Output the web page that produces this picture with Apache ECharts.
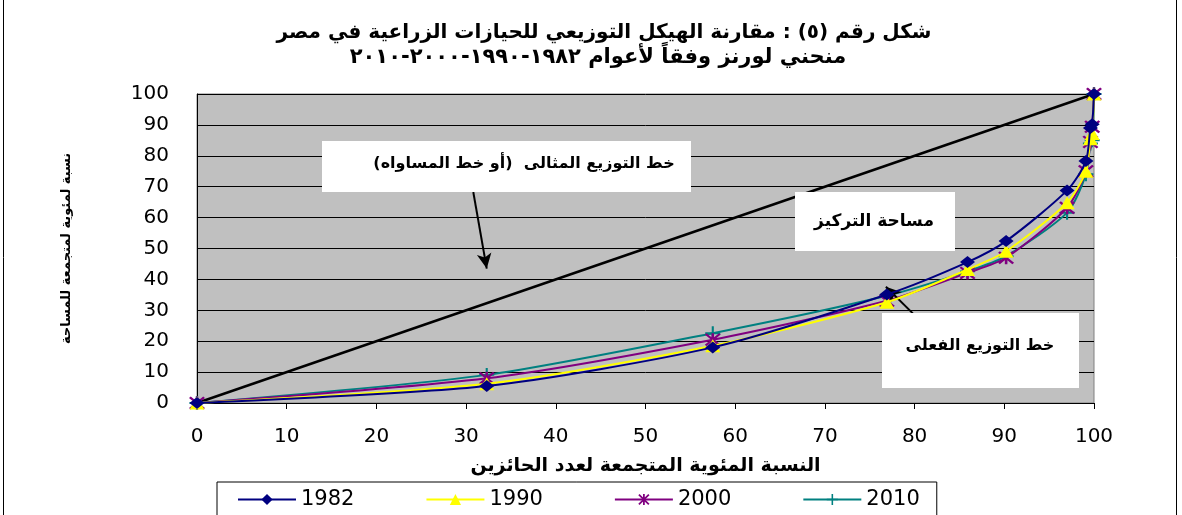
<!DOCTYPE html>
<html>
<head>
<meta charset="utf-8">
<script src="https://cdn.jsdelivr.net/npm/echarts@6/dist/echarts.min.js"></script>
<style>
html,body{margin:0;padding:0;background:#fff;}
#c{width:1182px;height:515px;}
</style>
</head>
<body>
<div id="c"></div>
<script>
// ---- data ----
const holdersPct = [0, 32.3, 57.5, 76.9, 85.9, 90.2, 97.0, 99.1, 99.6, 99.8, 100];
const area1982 = [0, 5.5, 18.0, 35.1, 45.6, 52.4, 68.8, 78.3, 89.0, 90.2, 100];
const area1990 = [0, 6.2, 18.5, 32.6, 43.2, 49.1, 64.8, 75.0, 85.5, 87.2, 100];
const area2000 = [0, 8.0, 20.5, 33.1, 42.1, 47.0, 63.2, 75.0, 84.5, 89.4, 100];
const area2010 = [0, 9.1, 22.6, 34.7, 42.6, 47.5, 61.6, 74.0, 84.0, 85.0, 100];
const equalityX = [0, 100];
const equalityY = [0, 100];
const seriesNames = ['1982', '1990', '2000', '2010'];
const xTicks = [0, 10, 20, 30, 40, 50, 60, 70, 80, 90, 100];
const yTicks = [0, 10, 20, 30, 40, 50, 60, 70, 80, 90, 100];

const titleLine1 = 'شكل رقم (٥) : مقارنة الهيكل التوزيعي للحيازات الزراعية في مصر';
const titleLine2 = 'منحني لورنز وفقاً لأعوام ١٩٨٢-١٩٩٠-٢٠٠٠-٢٠١٠';
const xName = 'النسبة المئوية المتجمعة لعدد الحائزين';
const yName = 'نسبة لمئوية لمتجمعة للمساحة';
const note1 = 'خط التوزيع المثالى  (أو خط المساواه)';
const note2 = 'مساحة التركيز';
const note3 = 'خط التوزيع الفعلى';

// ---- build ----
const zip = (xs, ys) => xs.map((x, i) => [x, ys[i]]);
const asterisk = 'path://M4.2,0 L5.8,0 L5.8,10 L4.2,10 Z M0,1.1 L1.1,0 L10,8.9 L8.9,10 Z M8.9,0 L10,1.1 L1.1,10 L0,8.9 Z';
const plus = 'path://M4.3,0 L5.7,0 L5.7,10 L4.3,10 Z M0,4.3 L10,4.3 L10,5.7 L0,5.7 Z';

const styles = [
  {color: '#000080', symbol: 'diamond', size: [15, 12]},
  {color: '#FFFF00', symbol: 'triangle', size: [15, 13]},
  {color: '#800080', symbol: asterisk, size: [16, 13]},
  {color: '#008080', symbol: plus, size: [15, 14]}
];
const values = [area1982, area1990, area2000, area2010];

const curveSeries = seriesNames.map((n, i) => ({
  name: n,
  type: 'line',
  data: zip(holdersPct, values[i]),
  smooth: 0.25,
  symbol: styles[i].symbol,
  symbolSize: styles[i].size,
  showAllSymbol: true,
  itemStyle: {color: styles[i].color},
  lineStyle: {color: styles[i].color, width: 2},
  z: 3 + (3 - i)
}));

const arabicFont = '"DejaVu Sans", "Noto Sans", sans-serif';
const numFont = '"DejaVu Sans", "Liberation Sans", sans-serif';

const option = {
  animation: false,
  backgroundColor: '#ffffff',
  grid: {
    left: 197, right: 88, top: 94, bottom: 112,
    show: true, backgroundColor: '#c0c0c0', borderColor: '#808080', borderWidth: 1
  },
  legend: {
    data: seriesNames,
    left: 217, top: 482,
    padding: [7, 17, 14, 20],
    itemWidth: 58, itemHeight: 14, itemGap: 71,
    backgroundColor: '#ffffff',
    borderColor: '#000000', borderWidth: 1,
    textStyle: {fontFamily: numFont, fontSize: 21, color: '#000'}
  },
  xAxis: {
    type: 'value', min: xTicks[0], max: xTicks[xTicks.length - 1], interval: xTicks[1] - xTicks[0],
    name: xName, nameLocation: 'middle', nameGap: 54,
    nameTextStyle: {fontFamily: arabicFont, fontWeight: 'bold', fontSize: 19, color: '#000'},
    axisLine: {lineStyle: {color: '#000', width: 1}},
    axisTick: {show: true, inside: false, length: 6, lineStyle: {color: '#000'}},
    axisLabel: {margin: 24, fontFamily: numFont, fontSize: 20, color: '#000'},
    splitLine: {show: false}
  },
  yAxis: {
    type: 'value', min: yTicks[0], max: yTicks[yTicks.length - 1], interval: yTicks[1] - yTicks[0],
    name: yName, nameLocation: 'middle', nameGap: 124, nameRotate: 90,
    nameTextStyle: {fontFamily: arabicFont, fontWeight: 'bold', fontSize: 13, color: '#000'},
    axisLine: {show: true, lineStyle: {color: '#000', width: 1}},
    axisTick: {show: false},
    axisLabel: {margin: 28, fontFamily: numFont, fontSize: 20, color: '#000'},
    splitLine: {show: true, lineStyle: {color: '#000', width: 1}}
  },
  series: [
    {
      name: 'equality',
      type: 'line',
      data: zip(equalityX, equalityY),
      symbol: 'none',
      lineStyle: {color: '#000', width: 2.5},
      z: 2,
      markLine: {
        silent: true,
        symbol: ['none', 'arrow'],
        symbolSize: [11, 15],
        lineStyle: {color: '#000', width: 2, type: 'solid'},
        label: {show: false},
        data: [
          [{coord: [30.8, 68.3]}, {coord: [32.3, 43.5]}],
          [{coord: [79.8, 29.0]}, {coord: [76.8, 37.6]}]
        ]
      }
    }
  ].concat(curveSeries),
  graphic: [
    {type: 'line', shape: {x1: 3.5, y1: 0, x2: 3.5, y2: 515}, style: {stroke: '#000', lineWidth: 1}, silent: true},
    {type: 'line', shape: {x1: 1176.5, y1: 0, x2: 1176.5, y2: 515}, style: {stroke: '#000', lineWidth: 1}, silent: true},
    {type: 'text', x: 604, y: 33, style: {text: titleLine1, font: 'bold 20px ' + arabicFont, fill: '#000', textAlign: 'center', textVerticalAlign: 'middle'}},
    {type: 'text', x: 598, y: 58, style: {text: titleLine2, font: 'bold 21px ' + arabicFont, fill: '#000', textAlign: 'center', textVerticalAlign: 'middle'}},
    {type: 'rect', shape: {x: 322, y: 141, width: 369, height: 51}, style: {fill: '#fff'}, z: 100},
    {type: 'text', x: 524, y: 164, z: 101, style: {text: note1, font: 'bold 16px ' + arabicFont, fill: '#000', textAlign: 'center', textVerticalAlign: 'middle'}},
    {type: 'rect', shape: {x: 795, y: 192, width: 160, height: 59}, style: {fill: '#fff'}, z: 100},
    {type: 'text', x: 874, y: 222, z: 101, style: {text: note2, font: 'bold 17px ' + arabicFont, fill: '#000', textAlign: 'center', textVerticalAlign: 'middle'}},
    {type: 'rect', shape: {x: 882, y: 313, width: 197, height: 75}, style: {fill: '#fff'}, z: 100},
    {type: 'text', x: 980, y: 346, z: 101, style: {text: note3, font: 'bold 16px ' + arabicFont, fill: '#000', textAlign: 'center', textVerticalAlign: 'middle'}}
  ]
};

const chart = echarts.init(document.getElementById('c'), null, {renderer: 'canvas'});
chart.setOption(option);
</script>
</body>
</html>
